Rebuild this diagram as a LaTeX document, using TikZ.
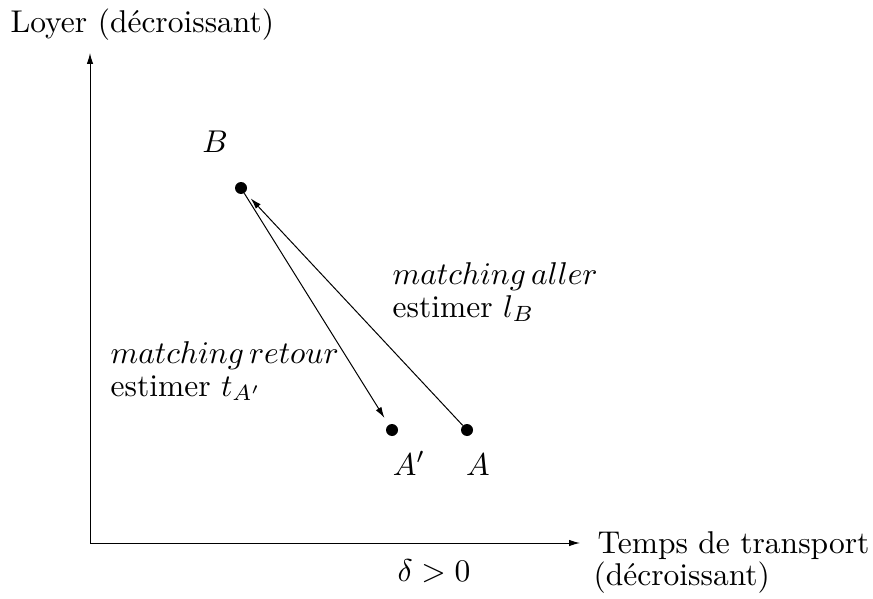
\documentclass[tikz,border=0pt]{standalone}
\usetikzlibrary{arrows.meta}
\begin{document}
\begin{tikzpicture}[x=1pt,y=1pt,
  lbl/.style={scale=3.15, inner sep=0pt},
  dot/.style={circle, fill=black, inner sep=0pt, minimum size=12pt},
  tip/.style={-{Latex[length=11pt,width=6.5pt]}, line width=1pt},
  axis/.style={-{Latex[length=11pt,width=6.5pt]}, line width=1pt}]
\useasboundingbox (0,0) rectangle (873,-599);
% axes
\coordinate (O) at (90,-543);
\coordinate (ytop) at (90,-53);
\coordinate (xend) at (580,-543);
\draw[axis] (O) -- (ytop);
\draw[axis] (O) -- (xend);
% points
\node[dot] (B) at (241,-188) {};
\node[dot] (Ap) at (392,-430) {};
\node[dot] (A) at (467,-430) {};
\draw[tip, shorten >=8pt] (A) -- (B);
\draw[tip, shorten >=8pt] (B) -- (Ap);
% labels
\node[lbl, anchor=base west] (ly) at (10,-33) {Loyer (décroissant)};
\node[lbl, anchor=base] (lB) at (215,-153) {$B$};
\node[lbl, anchor=base] (lAp) at (409,-475) {$A'$};
\node[lbl, anchor=base] (lA) at (478,-475) {$A$};
\node[lbl, anchor=base west] (m1) at (392,-284) {$matching\,aller$};
\node[lbl, anchor=base west] (e1) at (392,-317) {estimer $l_B$};
\node[lbl, anchor=base west] (m2) at (110,-363) {$matching\,retour$};
\node[lbl, anchor=base west] (e2) at (110,-396) {estimer $t_{A'}$};
\node[lbl, anchor=base west] (tt) at (597,-553) {Temps de transport};
\node[lbl, anchor=base west] (td) at (593,-585) {(décroissant)};
\node[lbl, anchor=base] (dl) at (434,-581) {$\delta>0$};
\end{tikzpicture}
\end{document}
